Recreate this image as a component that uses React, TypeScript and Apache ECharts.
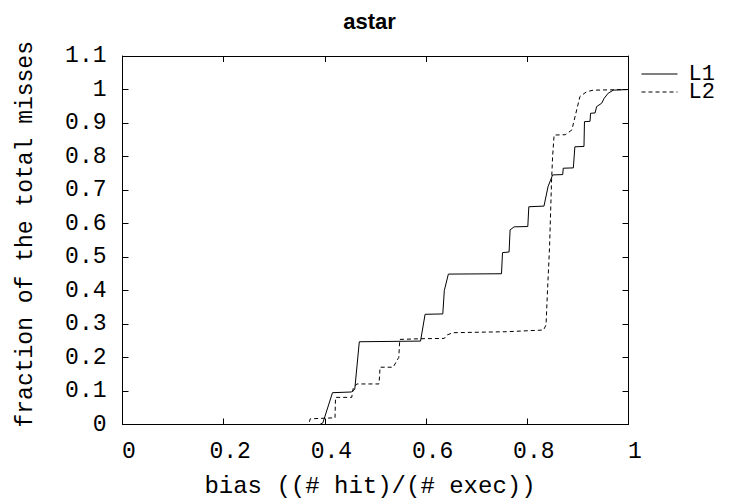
import React, { useEffect, useRef } from "react";
import * as echarts from "echarts";

const titleText = "astar";
const xName = "bias ((# hit)/(# exec))";
const yName = "fraction of the total misses";
const seriesNames = ["L1", "L2"];

const l1X = [0, 0.39, 0.396, 0.415, 0.452, 0.459, 0.468, 0.589, 0.598, 0.633, 0.636, 0.644, 0.749, 0.751, 0.764, 0.766, 0.774, 0.801, 0.803, 0.833, 0.841, 0.85, 0.87, 0.871, 0.891, 0.894, 0.912, 0.913, 0.924, 0.925, 0.934, 0.937, 0.947, 0.952, 0.96, 0.97, 1.0];
const l1Y = [0, 0, 0.005, 0.095, 0.097, 0.105, 0.247, 0.249, 0.329, 0.33, 0.4, 0.449, 0.45, 0.513, 0.515, 0.581, 0.59, 0.591, 0.65, 0.652, 0.71, 0.745, 0.746, 0.765, 0.766, 0.829, 0.83, 0.904, 0.905, 0.929, 0.93, 0.949, 0.959, 0.974, 0.989, 0.998, 1.0];

const l2X = [0, 0.368, 0.371, 0.42, 0.421, 0.453, 0.456, 0.463, 0.507, 0.509, 0.535, 0.542, 0.546, 0.548, 0.588, 0.636, 0.641, 0.653, 0.759, 0.832, 0.837, 0.84, 0.844, 0.846, 0.848, 0.85, 0.853, 0.875, 0.888, 0.904, 0.917, 0.93, 1.0];
const l2Y = [0, 0, 0.017, 0.02, 0.081, 0.081, 0.108, 0.121, 0.121, 0.171, 0.171, 0.19, 0.2, 0.254, 0.256, 0.257, 0.267, 0.274, 0.277, 0.282, 0.297, 0.401, 0.531, 0.63, 0.73, 0.8, 0.864, 0.865, 0.879, 0.979, 0.993, 0.998, 1.0];

const MONO = "'Liberation Mono', 'Courier New', monospace";

export default function App() {
  const ref = useRef<HTMLDivElement>(null);
  useEffect(() => {
    if (!ref.current) return;
    const chart = echarts.init(ref.current, undefined, { renderer: "svg" });
    const pairs = (xs: number[], ys: number[]) => xs.map((x, i) => [x, ys[i]]);
    const axisCommon = {
      type: "value" as const,
      axisLine: { show: true, onZero: false, lineStyle: { color: "#000", width: 1 } },
      axisTick: { show: true, inside: true, length: 6, lineStyle: { color: "#000" } },
      splitLine: { show: false },
    };
    const legendCommon = {
      orient: "vertical" as const,
      left: 641,
      padding: 0,
      itemWidth: 36,
      itemHeight: 14,
      itemGap: 0,
      itemStyle: { opacity: 0, borderWidth: 0 },
      lineStyle: { width: 1 },
      textStyle: { fontFamily: MONO, fontSize: 22, lineHeight: 16, color: "#000", padding: [0, 0, 5, 6] },
    };
    chart.setOption({
      animation: false,
      backgroundColor: "#fff",
      title: {
        text: titleText,
        left: "center",
        top: 5,
        textStyle: { fontFamily: "'Liberation Sans', Arial, sans-serif", fontWeight: "bold", fontSize: 22, color: "#000" },
      },
      legend: [
        { ...legendCommon, top: 63, data: [seriesNames[0]] },
        { ...legendCommon, top: 81, data: [seriesNames[1]] },
      ],
      grid: { left: 122.5, right: 110.5, top: 56, bottom: 79.5 },
      xAxis: [
        {
          ...axisCommon,
          position: "bottom",
          min: 0,
          max: 1,
          interval: 0.2,
          name: xName,
          nameLocation: "middle",
          nameGap: 50,
          nameTextStyle: { fontFamily: MONO, fontSize: 24, color: "#000", padding: [0, 11, 0, 0] },
          axisLabel: { fontFamily: MONO, fontSize: 23, color: "#000", margin: 16, padding: [0, 0, 0, 13] },
        },
        {
          ...axisCommon,
          position: "top",
          min: 0,
          max: 1,
          interval: 0.2,
          axisLabel: { show: false },
        },
      ],
      yAxis: [
        {
          ...axisCommon,
          position: "left",
          min: 0,
          max: 1.1,
          interval: 0.1,
          name: yName,
          nameLocation: "middle",
          nameGap: 85,
          nameTextStyle: { fontFamily: MONO, fontSize: 23, color: "#000", padding: [0, 0, 0, 12] },
          axisLabel: { fontFamily: MONO, fontSize: 23, color: "#000", margin: 16, padding: [6, 0, 0, 0] },
        },
        {
          ...axisCommon,
          position: "right",
          min: 0,
          max: 1.1,
          interval: 0.1,
          axisLabel: { show: false },
        },
      ],
      series: [
        {
          name: seriesNames[0],
          type: "line",
          symbol: "none",
          showSymbol: false,
          data: pairs(l1X, l1Y),
          lineStyle: { color: "#000", width: 1, type: "solid" },
          itemStyle: { color: "#000" },
        },
        {
          name: seriesNames[1],
          type: "line",
          symbol: "none",
          showSymbol: false,
          data: pairs(l2X, l2Y),
          lineStyle: { color: "#000", width: 1, type: [4, 3] },
          itemStyle: { color: "#000" },
        },
      ],
    });
    return () => chart.dispose();
  }, []);
  return <div ref={ref} style={{ position: "fixed", left: 0, top: 0, width: 739, height: 504 }} />;
}
